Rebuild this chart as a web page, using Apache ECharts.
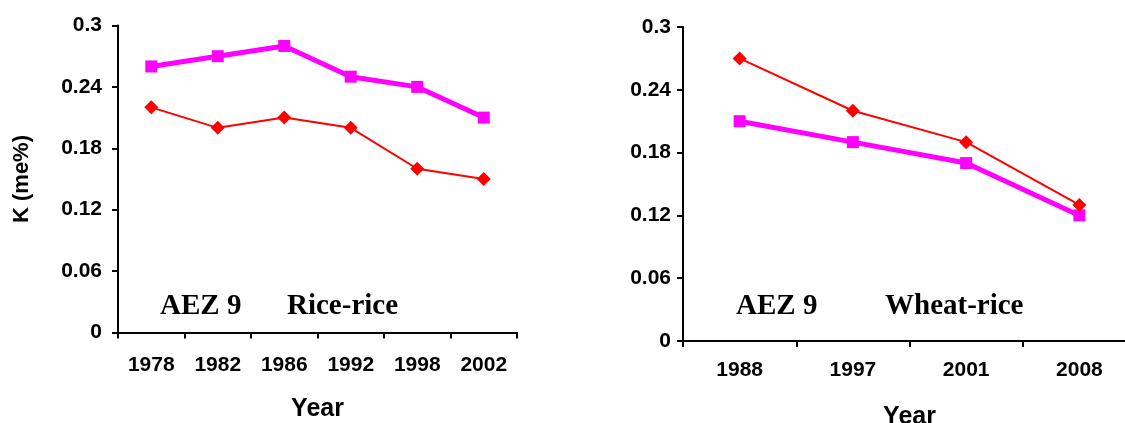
<!DOCTYPE html>
<html>
<head>
<meta charset="utf-8">
<script src="https://cdn.jsdelivr.net/npm/echarts@6/dist/echarts.min.js"></script>
<style>
html,body{margin:0;padding:0;background:#fff;}
#c{width:1125px;height:423px;}
</style>
</head>
<body>
<div id="c"></div>
<script>
// ---- data ----
const leftYears = ['1978', '1982', '1986', '1992', '1998', '2002'];
const leftPink = [0.26, 0.27, 0.28, 0.25, 0.24, 0.21];
const leftRed = [0.22, 0.20, 0.21, 0.20, 0.16, 0.15];

const rightYears = ['1988', '1997', '2001', '2008'];
const rightRed = [0.27, 0.22, 0.19, 0.13];
const rightPink = [0.21, 0.19, 0.17, 0.12];

const yTickLabels = ['0', '0.06', '0.12', '0.18', '0.24', '0.3'];
const yMin = 0, yMax = 0.3, yStep = 0.06;

const leftNote = ['AEZ 9', 'Rice-rice'];
const rightNote = ['AEZ 9', 'Wheat-rice'];
const xName = 'Year';
const yName = 'K (me%)';

// ---- styles ----
const sans = '"Liberation Sans", Arial, sans-serif';
const serif = '"Liberation Serif", "Times New Roman", serif';
const PINK = '#FF00FF', RED = '#FF0000';

function yLabel(v) {
  const i = Math.round((v - yMin) / yStep);
  return yTickLabels[i] !== undefined ? yTickLabels[i] : '';
}

function xAxis(idx, data, labelMargin, nameGap) {
  return {
    type: 'category', gridIndex: idx, data: data, boundaryGap: true,
    name: xName, nameLocation: 'middle', nameGap: nameGap,
    nameTextStyle: {fontFamily: sans, fontWeight: 'bold', fontSize: 25, color: '#000'},
    axisLine: {show: true, lineStyle: {color: '#000', width: 2}},
    axisTick: {show: true, inside: false, length: 6, alignWithLabel: false, lineStyle: {color: '#000', width: 2}},
    axisLabel: {fontFamily: sans, fontWeight: 'bold', fontSize: 21, color: '#000', margin: labelMargin, interval: 0},
    splitLine: {show: false}
  };
}
function yAxis(idx, showName, labelMargin) {
  return {
    type: 'value', gridIndex: idx, min: yMin, max: yMax, interval: yStep,
    name: showName ? yName : '', nameLocation: 'middle', nameGap: 85,
    nameTextStyle: {fontFamily: sans, fontWeight: 'bold', fontSize: 22, color: '#000'},
    axisLine: {show: true, lineStyle: {color: '#000', width: 2}},
    axisTick: {show: true, inside: false, length: 6, lineStyle: {color: '#000', width: 2}},
    axisLabel: {fontFamily: sans, fontWeight: 'bold', fontSize: 21, color: '#000', margin: labelMargin, formatter: yLabel},
    splitLine: {show: false}
  };
}
function pinkSeries(i, data) {
  return {type: 'line', xAxisIndex: i, yAxisIndex: i, data: data, symbol: 'rect', symbolSize: 12,
    itemStyle: {color: PINK}, lineStyle: {color: PINK, width: 5}, silent: true, animation: false, z: 3};
}
function redSeries(i, data) {
  return {type: 'line', xAxisIndex: i, yAxisIndex: i, data: data, symbol: 'diamond', symbolSize: 14,
    itemStyle: {color: RED}, lineStyle: {color: RED, width: 2}, silent: true, animation: false, z: 4};
}
function note(text, x, y) {
  return {type: 'text', left: x, top: y, silent: true,
    style: {text: text, fontFamily: serif, fontWeight: 'bold', fontSize: 29, fill: '#000'}};
}

const chart = echarts.init(document.getElementById('c'), null, {renderer: 'canvas'});
chart.setOption({
  backgroundColor: '#fff',
  animation: false,
  grid: [
    {left: 118, top: 25.5, width: 399, height: 307, containLabel: false, outerBoundsMode: 'none'},
    {left: 683, top: 27, width: 453, height: 314, containLabel: false, outerBoundsMode: 'none'}
  ],
  xAxis: [xAxis(0, leftYears, 22, 64), xAxis(1, rightYears, 19, 64)],
  yAxis: [yAxis(0, true, 16), yAxis(1, false, 12)],
  series: [
    pinkSeries(0, leftPink), redSeries(0, leftRed),
    redSeries(1, rightRed), pinkSeries(1, rightPink)
  ],
  graphic: [
    note(leftNote[0], 160, 292), note(leftNote[1], 287, 292),
    note(rightNote[0], 736, 292), note(rightNote[1], 885, 292)
  ]
});
</script>
</body>
</html>
